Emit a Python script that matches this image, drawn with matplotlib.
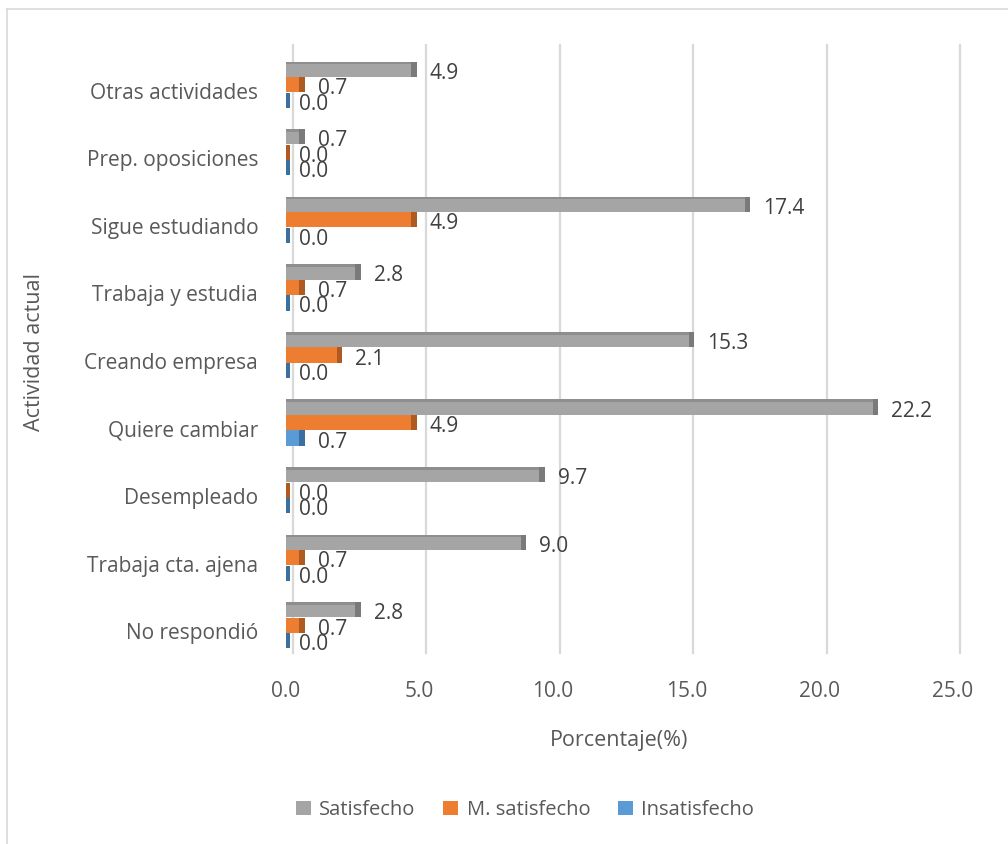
import matplotlib
matplotlib.use("Agg")
import matplotlib.pyplot as plt
import matplotlib.transforms as mtransforms
from matplotlib.lines import Line2D
from matplotlib.patches import Patch
import numpy as np

categories = ["Otras actividades", "Prep. oposiciones", "Sigue estudiando",
              "Trabaja y estudia", "Creando empresa", "Quiere cambiar",
              "Desempleado", "Trabaja cta. ajena", "No respondió"]
satisfecho = [4.9, 0.7, 17.4, 2.8, 15.3, 22.2, 9.7, 9.0, 2.8]
m_satisfecho = [0.7, 0.0, 4.9, 0.7, 2.1, 4.9, 0.0, 0.7, 0.7]
insatisfecho = [0.0, 0.0, 0.0, 0.0, 0.0, 0.7, 0.0, 0.0, 0.0]
series_names = ["Satisfecho", "M. satisfecho", "Insatisfecho"]
xticks = [0, 5, 10, 15, 20, 25]

colors = ["#a5a5a5", "#ed7d31", "#5b9bd5"]
caps = ["#7a7a7a", "#ae5a21", "#3a6f9f"]
tops = ["#8e8e8e", "#d96d25", "#4f8cc4"]
txt = "#595959"
lbl = "#404040"

plt.rcParams['font.family'] = ['Open Sans', 'DejaVu Sans']

fig = plt.figure(figsize=(10.08, 8.44), dpi=100)
W, H = 1008, 844
ax = fig.add_axes([286 / W, 1 - 659 / H, (953 - 286) / W, (659 - 51) / H])

y = np.arange(len(categories))
offsets = [-0.23, 0.0, 0.23]
h = 0.225
series = [satisfecho, m_satisfecho, insatisfecho]

# back-wall gridlines (offset to suggest depth)
back = ax.transData + mtransforms.ScaledTranslation(7 / 100, 6 / 100, fig.dpi_scale_trans)
inv = fig.transFigure.inverted()
for xt in xticks:
    ax.plot([xt, xt], [-0.5, 8.5], color="#d9d9d9", lw=1.6,
            transform=back, zorder=0, clip_on=False)
    p0 = inv.transform(back.transform((xt, 8.5)))
    p1 = inv.transform(ax.transData.transform((xt, 8.5)) + np.array([-4, -5]))
    fig.add_artist(Line2D([p0[0], p1[0]], [p0[1], p1[1]], color="#d9d9d9", lw=1.6,
                          transform=fig.transFigure, zorder=0))

cap_w = 0.2
for i, (vals, off, c, cc, tc) in enumerate(zip(series, offsets, colors, caps, tops)):
    vals = np.array(vals)
    ax.barh(y + off, vals, height=h, color=c, zorder=2)
    if i == 0:
        ax.barh(y + off - h / 2 + 0.02, vals, height=0.04, color=tc, zorder=2.5)
    left = np.maximum(vals - cap_w, 0)
    width = np.maximum(vals - left, 0.15)
    ax.barh(y + off, width, left=left, height=h, color=cc, zorder=3)
    for yi, v in zip(y + off, vals):
        ax.annotate(f"{v:.1f}", (v, yi), xytext=(13, -4), textcoords="offset pixels",
                    ha="left", va="center", fontsize=15, color=lbl, zorder=4)

ax.set_xlim(0, 25)
ax.set_ylim(8.5, -0.5)
ax.set_xticks(xticks)
ax.set_xticklabels([f"{v:.1f}" for v in xticks])
ax.set_yticks(y)
ax.set_yticklabels(categories)
ax.tick_params(axis="x", length=0, pad=16, labelsize=15, labelcolor=txt)
ax.tick_params(axis="y", length=0, pad=20, labelsize=15, labelcolor=txt)
for t in ax.get_yticklabels():
    t.set_transform(t.get_transform() + mtransforms.ScaledTranslation(0, -6 / 100, fig.dpi_scale_trans))
for s in ax.spines.values():
    s.set_visible(False)
ax.set_facecolor("none")

ax.set_xlabel("Porcentaje(%)", fontsize=15.5, color=txt, labelpad=20)
fig.text(35 / W, 1 - 352 / H, "Actividad actual", rotation=90, fontsize=15.5,
         color=txt, ha="center", va="center")

handles = [Patch(facecolor=c, edgecolor="none") for c in colors]
fig.legend(handles, series_names, loc="center", bbox_to_anchor=(525 / W, 1 - 810 / H),
           ncol=3, frameon=False, fontsize=14.5, handlelength=0.75, handleheight=0.75,
           handletextpad=0.4, columnspacing=1.4, labelcolor=txt)

# outer border
fig.add_artist(Line2D([7 / W, 1], [1 - 9 / H, 1 - 9 / H], color="#d9d9d9", lw=1.2,
                      transform=fig.transFigure))
fig.add_artist(Line2D([7 / W, 7 / W], [0, 1 - 9 / H], color="#d9d9d9", lw=1.2,
                      transform=fig.transFigure))

fig.savefig("out.png", dpi=100)
